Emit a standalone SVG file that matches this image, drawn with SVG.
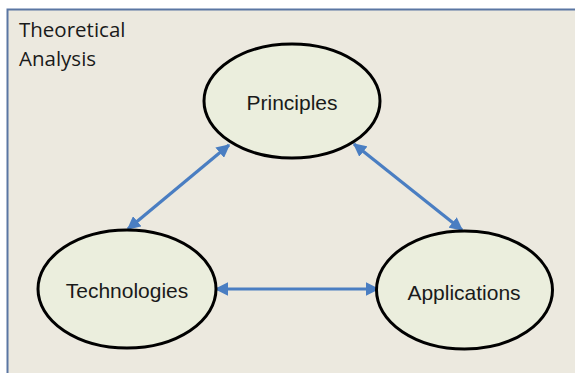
<svg xmlns="http://www.w3.org/2000/svg" width="575" height="373" viewBox="0 0 575 373">
<style>
.node ellipse{fill:#ebeedd;stroke:#000;stroke-width:3}
.node text{font-family:"Liberation Sans",Arial,sans-serif;font-size:21px;fill:#1a1a1a;text-anchor:middle}
.conn line{stroke:#4a7ec2;stroke-width:3.2}
.title{font-family:"Open Sans","Liberation Sans",sans-serif;font-size:20.5px;fill:#1a1a1a}
</style>
<defs>
<marker id="ah" viewBox="0 0 10 10" refX="9" refY="5" markerWidth="4.2" markerHeight="4.2" orient="auto-start-reverse" markerUnits="strokeWidth">
<path d="M0,0 L10,5 L0,10 z" fill="#4a7ec2"/>
</marker>
</defs>
<rect x="0" y="0" width="575" height="373" fill="#fff"/>
<rect id="frame" x="7.5" y="9.5" width="580" height="380" fill="#ece9df" stroke="#5a76a3" stroke-width="2"/>
<text class="title" x="19" y="37">Theoretical</text>
<text class="title" x="19" y="66">Analysis</text>
<g class="conn">
<line x1="229" y1="145" x2="128" y2="229" marker-start="url(#ah)" marker-end="url(#ah)"/>
<line x1="354" y1="144" x2="462" y2="230" marker-start="url(#ah)" marker-end="url(#ah)"/>
<line x1="216" y1="289" x2="378" y2="289" marker-start="url(#ah)" marker-end="url(#ah)"/>
</g>
<g id="principles" class="node">
<ellipse cx="292" cy="101" rx="88" ry="57"/>
<text x="292" y="110">Principles</text>
</g>
<g id="technologies" class="node">
<ellipse cx="127" cy="289" rx="89" ry="59"/>
<text x="127" y="298">Technologies</text>
</g>
<g id="applications" class="node">
<ellipse cx="464.5" cy="290" rx="88" ry="59"/>
<text x="464" y="300">Applications</text>
</g>
</svg>
